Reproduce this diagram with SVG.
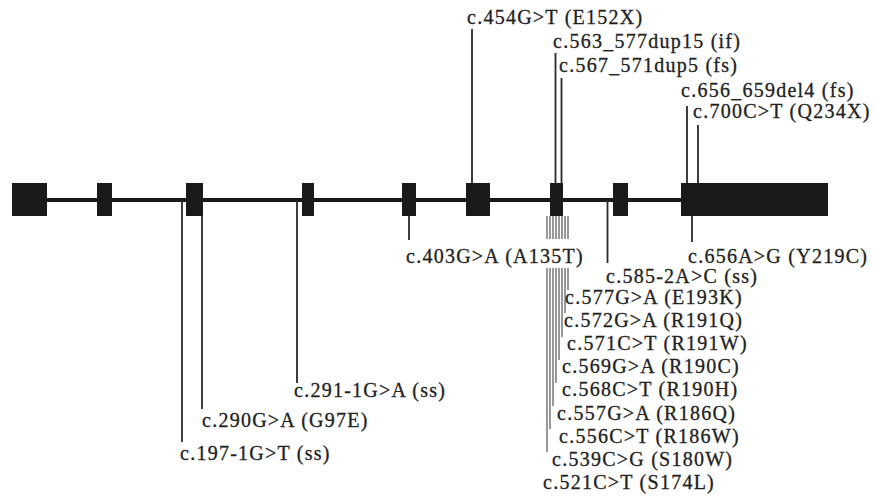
<svg xmlns="http://www.w3.org/2000/svg" width="874" height="500" viewBox="0 0 874 500">
<style>
.exon{fill:#1a1a1a}
.bb{stroke:#1a1a1a;stroke-width:4;fill:none}
.ln{stroke:#2a2a2a;stroke-width:1.8;fill:none}
.lnt{stroke:#555;stroke-width:1.2;fill:none}
text{font-family:"Liberation Serif","Times New Roman",serif;font-size:20px;letter-spacing:1.25px;fill:#222;stroke:#222;stroke-width:0.3}
</style>
<rect width="874" height="500" fill="#fff"/>
<g id="backbone"><line class="bb" x1="12" y1="200" x2="690" y2="200"/></g>
<g id="exon1"><rect class="exon" x="12" y="183" width="35" height="33"/></g>
<g id="exon2"><rect class="exon" x="97" y="183" width="15" height="33"/></g>
<g id="exon3"><rect class="exon" x="186" y="183" width="17" height="33"/></g>
<g id="exon4"><rect class="exon" x="302" y="183" width="12" height="33"/></g>
<g id="exon5"><rect class="exon" x="402" y="183" width="14" height="33"/></g>
<g id="exon6"><rect class="exon" x="466" y="183" width="24" height="33"/></g>
<g id="exon7"><rect class="exon" x="550" y="183" width="13" height="33"/></g>
<g id="exon8"><rect class="exon" x="613" y="183" width="15" height="33"/></g>
<g id="exon9"><rect class="exon" x="681" y="183" width="147" height="33"/></g>
<g id="connectors">
<line class="ln" x1="472" y1="29" x2="472" y2="183"/>
<line class="ln" x1="555.5" y1="53" x2="555.5" y2="183"/>
<line class="ln" x1="561.5" y1="78" x2="561.5" y2="183"/>
<line class="ln" x1="687" y1="106" x2="687" y2="183"/>
<line class="ln" x1="698" y1="125" x2="698" y2="183"/>
<line class="ln" x1="182" y1="200" x2="182" y2="442"/>
<line class="ln" x1="202" y1="216" x2="202" y2="409"/>
<line class="ln" x1="297" y1="200" x2="297" y2="383"/>
<line class="ln" x1="409" y1="216" x2="409" y2="240"/>
<line class="ln" x1="607.5" y1="200" x2="607.5" y2="263"/>
<line class="ln" x1="692" y1="216" x2="692" y2="242"/>
<g class="cluster">
<line class="lnt" x1="547" y1="216" x2="547" y2="239"/>
<line class="lnt" x1="550" y1="216" x2="550" y2="239"/>
<line class="lnt" x1="553" y1="216" x2="553" y2="239"/>
<line class="lnt" x1="556" y1="216" x2="556" y2="239"/>
<line class="lnt" x1="559" y1="216" x2="559" y2="239"/>
<line class="lnt" x1="562" y1="216" x2="562" y2="239"/>
<line class="lnt" x1="565" y1="216" x2="565" y2="239"/>
<line class="lnt" x1="568" y1="216" x2="568" y2="239"/>
<line class="lnt" x1="547" y1="268" x2="547" y2="452"/>
<line class="lnt" x1="550" y1="268" x2="550" y2="429"/>
<line class="lnt" x1="553" y1="268" x2="553" y2="406"/>
<line class="lnt" x1="556" y1="268" x2="556" y2="383"/>
<line class="lnt" x1="559" y1="268" x2="559" y2="360"/>
<line class="lnt" x1="562" y1="268" x2="562" y2="337"/>
<line class="lnt" x1="565" y1="268" x2="565" y2="313"/>
<line class="lnt" x1="568" y1="268" x2="568" y2="290"/>
</g>
</g>
<g id="m454"><text x="467" y="24">c.454G&gt;T (E152X)</text></g>
<g id="m563"><text x="553" y="48">c.563_577dup15 (if)</text></g>
<g id="m567"><text x="559" y="72">c.567_571dup5 (fs)</text></g>
<g id="m656del"><text x="681" y="97">c.656_659del4 (fs)</text></g>
<g id="m700"><text x="693" y="118">c.700C&gt;T (Q234X)</text></g>
<g id="m403"><text x="406" y="263">c.403G&gt;A (A135T)</text></g>
<g id="m585"><text x="606" y="283">c.585-2A&gt;C (ss)</text></g>
<g id="m656"><text x="688" y="263">c.656A&gt;G (Y219C)</text></g>
<g id="m291"><text x="294" y="397">c.291-1G&gt;A (ss)</text></g>
<g id="m290"><text x="202" y="427">c.290G&gt;A (G97E)</text></g>
<g id="m197"><text x="180" y="460">c.197-1G&gt;T (ss)</text></g>
<g id="m577"><text x="565" y="304">c.577G&gt;A (E193K)</text></g>
<g id="m572"><text x="564" y="327">c.572G&gt;A (R191Q)</text></g>
<g id="m571"><text x="567" y="350">c.571C&gt;T (R191W)</text></g>
<g id="m569"><text x="562" y="373">c.569G&gt;A (R190C)</text></g>
<g id="m568"><text x="562" y="396">c.568C&gt;T (R190H)</text></g>
<g id="m557"><text x="557" y="420">c.557G&gt;A (R186Q)</text></g>
<g id="m556"><text x="559" y="443">c.556C&gt;T (R186W)</text></g>
<g id="m539"><text x="552" y="466">c.539C&gt;G (S180W)</text></g>
<g id="m521"><text x="543" y="489">c.521C&gt;T (S174L)</text></g>
</svg>
